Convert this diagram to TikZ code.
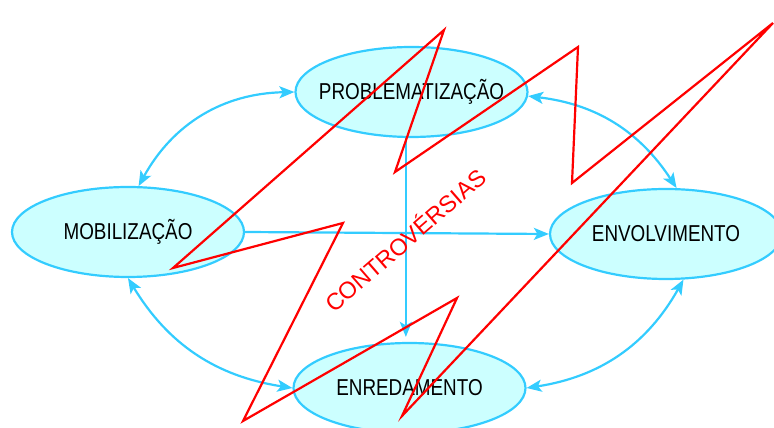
\documentclass[tikz,border=0pt]{standalone}
\usepackage{fontspec}
\setmainfont{Liberation Sans}
\newfontfamily\stagefont{Liberation Sans}[FakeStretch=0.82]
\usetikzlibrary{shapes.geometric,arrows.meta}
\definecolor{skyline}{RGB}{51,204,255}
\definecolor{skyfill}{RGB}{204,255,255}
\tikzset{
	stage/.style={ellipse,draw=skyline,fill=skyfill,line width=2.2pt,
		minimum width=232pt,minimum height=90pt,inner xsep=-12pt,inner ysep=0pt,
		font=\stagefont\fontsize{23}{23}\selectfont},
	tip/.tip={Stealth[length=15pt,width=12pt,inset=3.5pt]},
	link/.style={draw=skyline,line width=2.2pt,-tip},
	twoway/.style={link,tip-tip},
	clash/.style={red,anchor=base,rotate=41,font=\fontsize{23.5}{23.5}\selectfont},
}

\begin{document}
\begin{tikzpicture}[x=1pt,y=1pt]
	\useasboundingbox (0,0) rectangle (774,428);
	\node[stage] (prob) at (411.5,336) {PROBLEMATIZAÇÃO};
	\node[stage] (mob) at (128,196) {MOBILIZAÇÃO};
	\node[stage] (env) at (666,194) {ENVOLVIMENTO};
	\node[stage] (enr) at (409.5,40) {ENREDAMENTO};
	% ligacoes
	\draw[twoway] (prob.180) to[bend right=30] (mob.77);
	\draw[twoway] (prob.-2) to[bend left=25] (env.77);
	\draw[twoway] (mob.south) to[bend right=25] (enr.west);
	\draw[twoway] (env.-69) to[bend left=26] (enr.east);
	\draw[link] (mob.east) -- (env.west);
	\draw[link,shorten >=5pt] (prob.263) -- (prob.263 |- enr.north);
	\node[clash] (contro) at (411,181) {CONTROVÉRSIAS};
	% raio
	\draw[red][line width=2.2pt] (773,405) -- (572,245) -- (578,381) -- (395,256)
		-- (444,398) -- (173,160) -- (343,205) -- (243,7) -- (457,130) -- (402,12) -- cycle;
\end{tikzpicture}
\end{document}
